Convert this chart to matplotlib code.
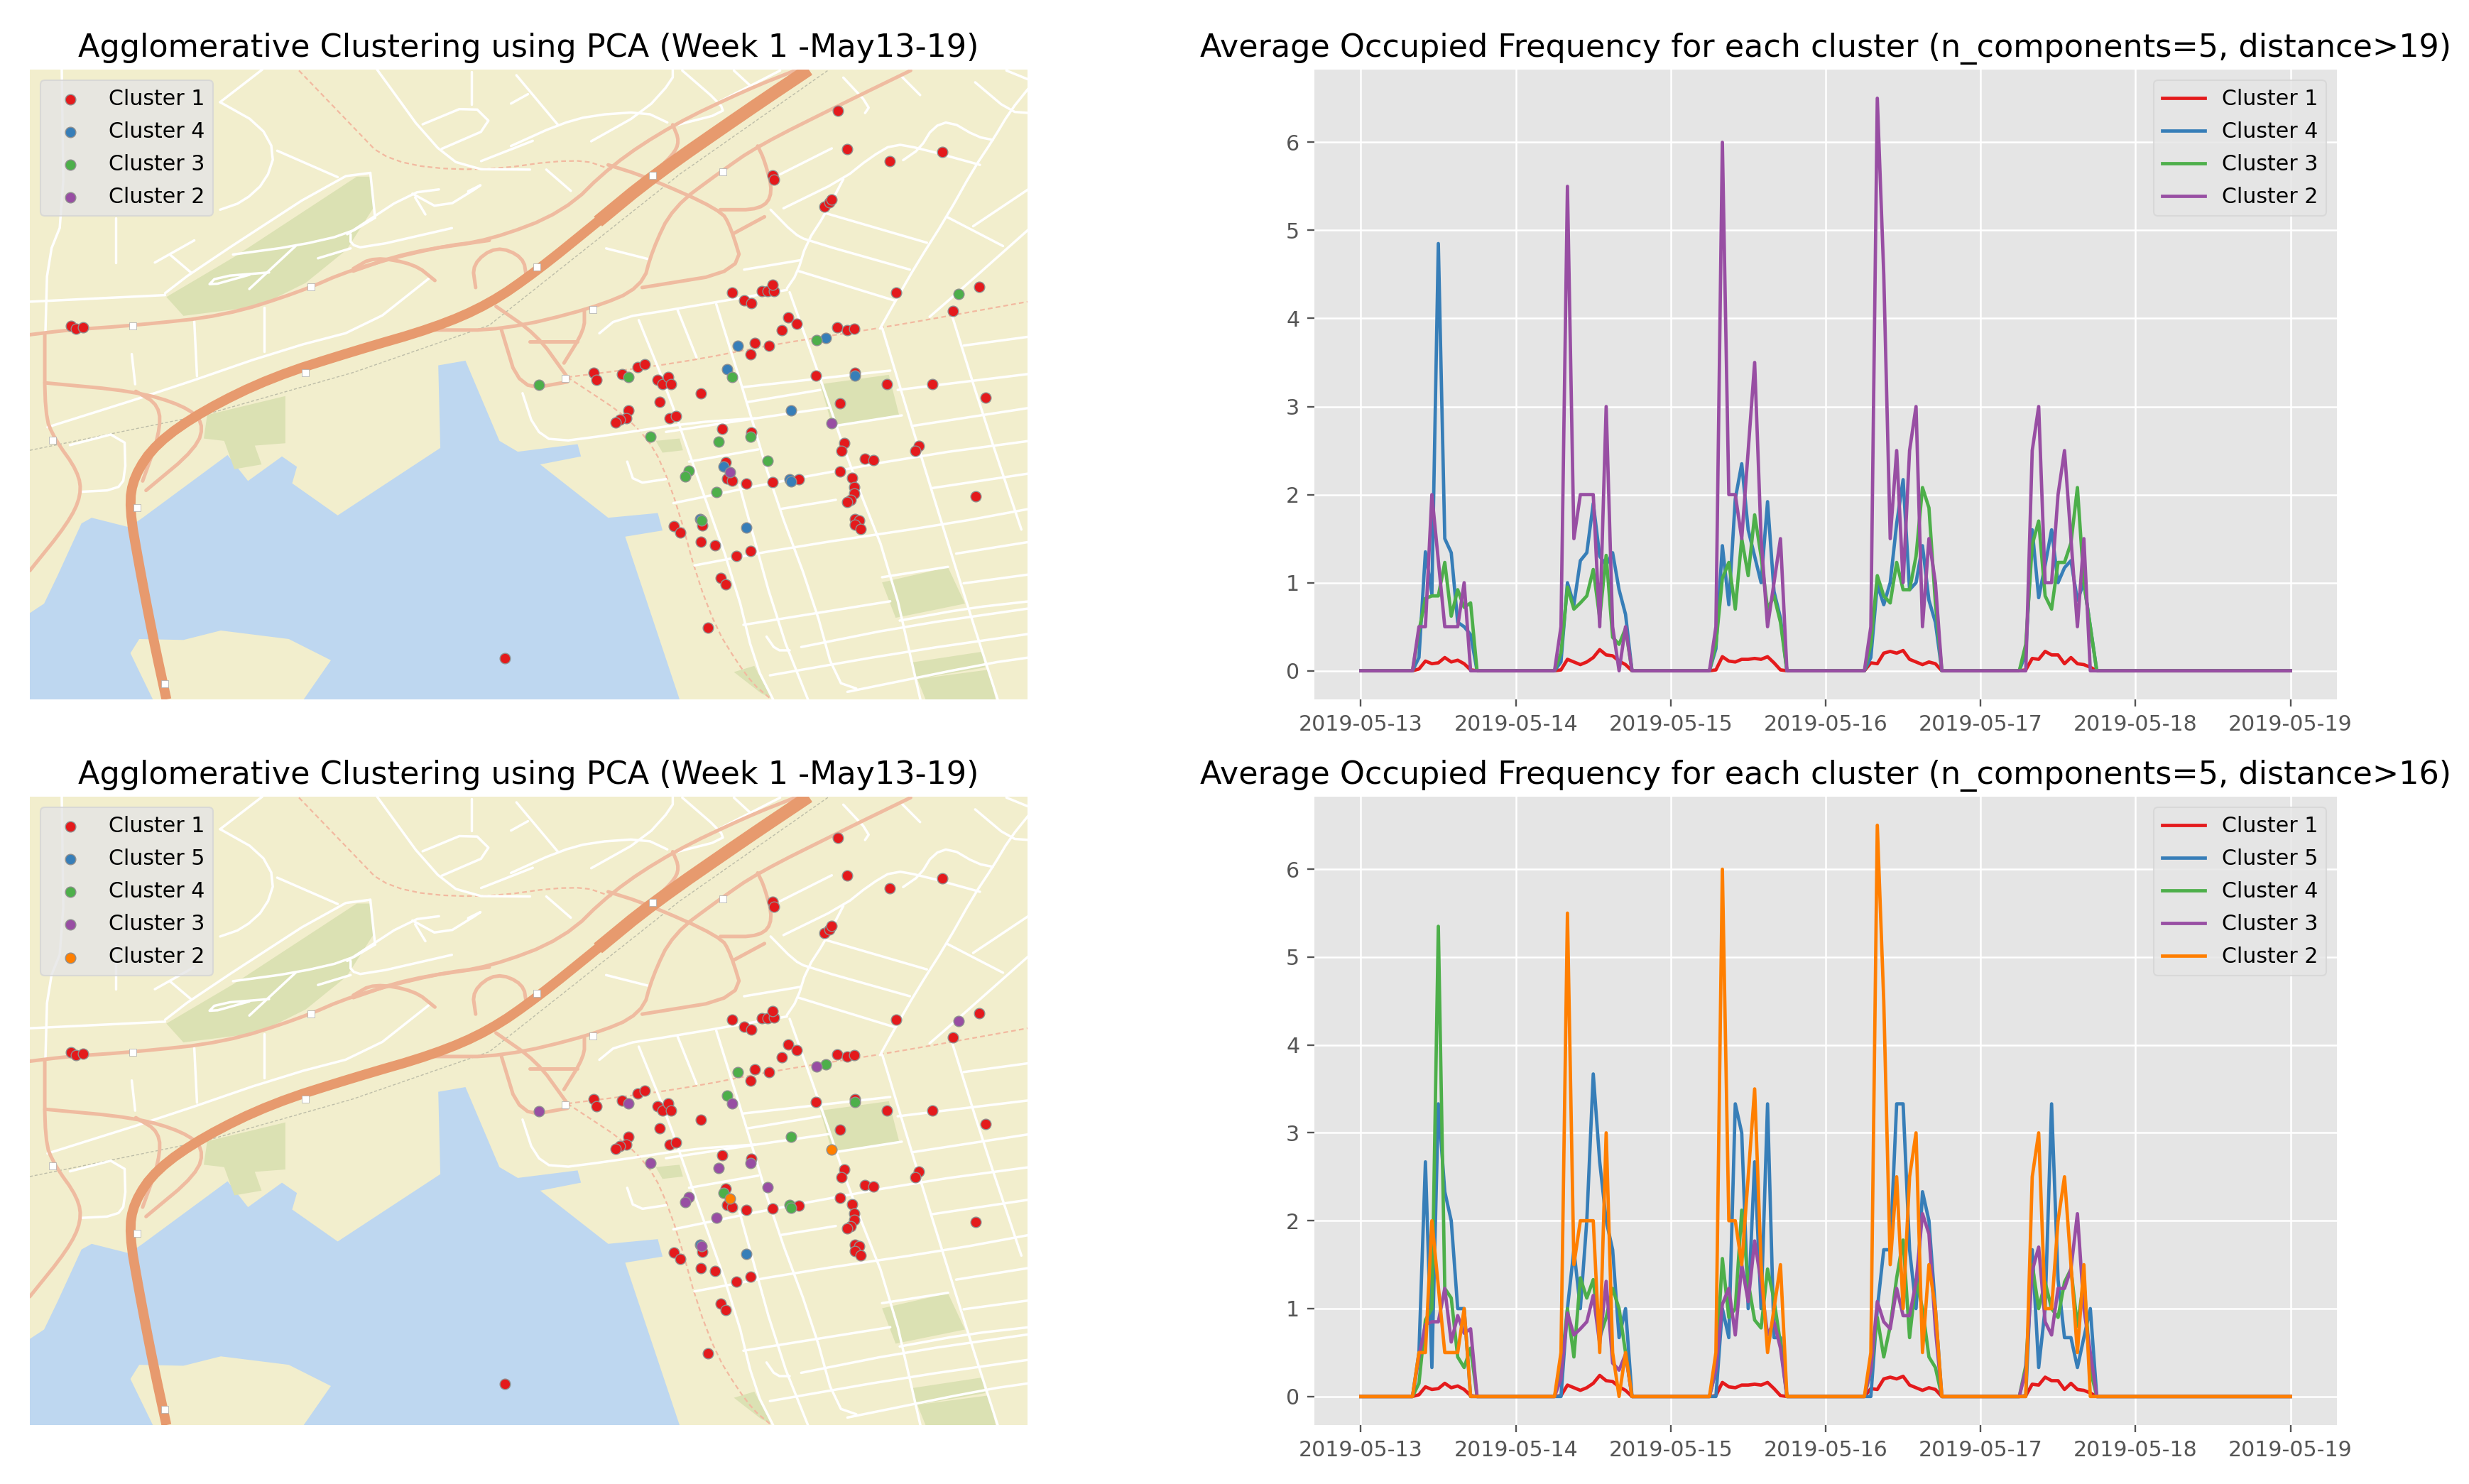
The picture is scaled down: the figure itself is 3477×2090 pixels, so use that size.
import pandas as pd
import matplotlib
matplotlib.use("Agg")
import matplotlib.pyplot as plt
import matplotlib.dates as mdates

# ---------- hourly series: values for hours 06..18 of each working day ----------
C1 = [[0,0,0,.02,.11,.08,.09,.15,.1,.12,.08,.01,0],
      [0,.01,.13,.1,.07,.1,.15,.24,.18,.17,.11,.07,0],
      [0,.01,.16,.11,.1,.13,.13,.14,.13,.16,.09,.01,0],
      [0,.09,.08,.2,.22,.2,.23,.13,.1,.07,.1,.08,0],
      [0,.01,.14,.13,.22,.18,.18,.08,.15,.08,.07,.04,0]]
C2 = [[0,0,0,.5,.5,2,1.25,.5,.5,.5,1,0,0],
      [0,.5,5.5,1.5,2,2,2,.5,3,.5,0,.5,0],
      [0,.5,6,2,2,1.5,2.5,3.5,1.5,.5,1,1.5,0],
      [0,.5,6.5,4.5,1.5,2.5,1,2.5,3,.5,1.5,1,0],
      [0,0,2.5,3,1,1,2,2.5,1.5,.5,1.5,0,0]]
C3 = [[0,0,0,.45,.82,.85,.85,1.23,.62,.92,.72,.77,0],
      [0,.2,.95,.7,.77,.85,1.15,.6,1.31,.38,.3,.48,0],
      [0,.3,1.05,1.23,.7,1.5,1.08,1.77,1.3,.7,.85,.55,0],
      [0,.3,1.08,.85,.77,1.23,.92,.92,1.3,2.08,1.85,.77,0],
      [0,.3,1.43,1.7,.85,.7,1.23,1.23,1.45,2.08,1,.5,0]]
TOP_C4 = [[0,0,0,.15,1.35,.87,4.85,1.5,1.34,.55,.5,.41,0],
          [0,.1,1,.75,1.25,1.34,1.9,1.3,1.2,1.34,.92,.64,0],
          [0,.25,1.42,.75,1.95,2.35,1.6,1.3,1,1.92,.9,.6,0],
          [0,.15,.98,.75,1,1.67,2.17,.92,1,1.42,.8,.55,0],
          [0,.2,1.6,.83,1.2,1.6,1,1.17,1.25,.8,1,.5,0]]
BOT_C5 = [[0,0,0,.5,2.67,.33,3.33,2.33,2,1,1,0,0],
          [0,0,1,1.67,1,2,3.67,2.67,2,1.67,.67,1,0],
          [0,0,1,.67,3.33,3,1,2.67,1,3.33,.67,.67,0],
          [0,0,1,1.67,1.67,3.33,3.33,1.67,1,2.33,2,1,0],
          [0,0,1.67,.33,1,3.33,1.33,.67,.67,.33,.67,1,0]]
BOT_C4 = [[0,0,0,.15,.87,1,5.35,1.23,1.12,.45,.33,.55,0],
          [0,.3,1,.45,1.35,1.12,1.33,.67,.9,1.23,1,.5,0],
          [0,.3,1.57,.9,1,2.12,1.3,.87,.78,1.45,1.1,.6,0],
          [0,.3,.9,.45,.8,1.35,1.78,.67,1.33,1,.45,.33,0],
          [0,.35,1.5,1,1.3,1,.9,1.3,1.45,.8,1.33,.3,0]]

TIMES = pd.date_range("2019-05-13", "2019-05-19", freq="h")
DAY_TICKS = pd.date_range("2019-05-13", "2019-05-19", freq="D")

def week(days):
    out = []
    for d in days:
        out += [0]*6 + list(d) + [0]*5
    return out + [0]*25

# ---------- sensor locations ----------
PTS_RED = [(1233,236),(1247,316),(1309,342),(1387,322),(1137,372),(1139,382),(1213,438),(1220,430),(1224,423),
 (1077,621),(1095,637),(1106,643),(1121,618),(1130,618),(1139,617),(1137,604),(1160,674),(1172,687),(1151,701),
 (1232,695),(1247,700),(1257,697),(1319,621),(1441,608),(1402,660),(105,691),(112,697),(122,694),(1132,734),
 (1111,727),(1105,751),(874,790),(878,805),(915,794),(938,778),(949,773),(968,806),(975,815),(983,800),(988,815),
 (1031,834),(1201,797),(1258,790),(1305,814),(1372,814),(1450,843),(1236,856),(971,853),(985,887),(995,883),
 (925,871),(922,887),(912,890),(906,896),(1063,910),(1106,917),(1242,940),(1238,956),(1352,945),(1347,956),
 (1273,973),(1285,976),(1068,980),(1070,1015),(1077,1020),(1098,1026),(1137,1023),(1176,1017),(1236,1000),
 (1254,1014),(1257,1033),(1257,1047),(1252,1060),(1247,1065),(1436,1052),(1258,1100),(1264,1103),(1258,1113),
 (1266,1122),(992,1116),(1001,1130),(1033,1115),(1031,1149),(1052,1156),(1084,1179),(1105,1168),(1061,1225),
 (1068,1239),(1042,1331),(743,1395)]
PTS_A = [(1086,734),(1215,717),(1070,783),(1258,797),(1164,871),(1065,990),(1162,1016),(1164,1021)]   # top C4, bottom C4
PTS_B = [(1098,1119),(1030,1100)]                                                                    # top C4, bottom C5
PTS_C = [(1411,624),(1202,721),(1077,800),(925,800),(793,817),(957,926),(1058,937),(1105,926),(1130,977),
 (1014,999),(1008,1010),(1054,1043),(1032,1103)]                                                     # C3
PTS_D = [(1224,897),(1074,1002)]                                                                     # C2

# ---------- base map geometry ----------
WATER = [(44,1300),(65,1280),(85,1220),(120,1110),(135,1098),(190,1118),(210,1098),(335,965),(365,1020),(415,968),
 (437,990),(430,1025),(497,1093),(648,950),(645,775),(685,765),(735,935),(762,958),(850,942),(855,968),(795,985),
 (895,1098),(968,1088),(975,1125),(920,1138),(1000,1483),(447,1483),(487,1400),(425,1355),(325,1337),(270,1357),
 (205,1355),(192,1385),(225,1483),(44,1483)]
PARKS = [[(245,630),(345,545),(525,375),(545,375),(550,440),(510,530),(450,600),(380,650),(270,670)],
 [(305,880),(420,840),(420,940),(375,945),(385,985),(345,995),(330,935),(300,930)],
 [(1207,815),(1308,795),(1323,880),(1225,905)],
 [(1298,1235),(1395,1203),(1420,1280),(1318,1310)],
 [(1340,1405),(1445,1382),(1450,1415),(1350,1440)],
 [(1350,1440),(1455,1420),(1465,1483),(1362,1483)],
 [(1080,1425),(1110,1412),(1135,1480),(1120,1470)],
 [(965,935),(1000,930),(1005,955),(975,960)]]
HIGHWAY = [(1190,148),(1100,235),(960,375),(880,470),(790,575),(720,645),(640,695),(520,745),(400,800),(300,870),
 (230,940),(197,1010),(190,1075),(205,1200),(225,1350),(245,1483)]
HIGHWAY_WIDE = [(1190,148),(1100,235),(960,375),(880,470)]
RAIL = [(44,955),(300,880),(520,790),(720,690),(860,530),(1000,370),(1220,148)]
RAMPS = [[(44,710),(100,700),(200,690),(330,670),(440,620),(520,570),(640,525),(720,510),(830,450),(900,350),(990,265),(1100,190),(1170,150)],
 [(720,510),(600,535),(520,575)],[(640,595),(610,560),(550,545),(520,570)],
 [(700,610),(695,560),(730,522),(770,545),(775,590)],
 [(1340,150),(1240,220),(1115,310),(1060,365),(990,440),(960,530),(945,610),(870,655),(740,700),(640,700)],
 [(945,610),(1095,575),(1075,480),(1060,445),(950,375),(895,350)],
 [(1060,445),(1120,445),(1138,410),(1125,340),(1115,310)],[(1080,495),(1125,460)],
 [(730,650),(790,710),(830,790),(835,800)],[(738,700),(765,828),(835,810)],
 [(860,660),(860,700),(830,770)],[(780,725),(850,725)],[(990,265),(1000,300),(990,330),(955,375)],
 [(66,710),(66,880),(80,930),(115,1000),(120,1050),(100,1110),(44,1210)],
 [(66,812),(200,830),(270,860),(300,895),(290,950),(215,1040)],
 [(200,830),(235,860),(235,920),(210,1020)]]
DASHED = [[(440,150),(520,270),(570,345),(700,365),(850,335),(900,360)],
 [(835,800),(1000,770),(1140,730),(1300,695),(1512,640)],
 [(835,800),(940,900),(985,1010),(1040,1300),(1100,1440),(1135,1483)]]
STREETS = [[(44,640),(243,626)],[(243,622),(286,574),(497,376),(545,367)],[(67,703),(70,548),(94,462),(91,148)],
 [(324,217),(382,264),(405,324),(391,385),(358,428),(324,445)],[(324,217),(386,148)],[(408,320),(497,376)],
 [(545,367),(552,462)],[(552,462),(511,497),(435,522),(343,540)],[(435,522),(367,613)],
 [(396,578),(319,587),(305,608),(367,583)],[(511,497),(603,410),(646,402)],
 [(516,497),(516,518),(535,527),(665,484)],[(468,548),(516,527)],
 [(631,591),(540,695),(415,742),(242,828),(70,906)],[(286,682),(290,798)],[(389,652),(389,746)],
 [(194,751),(199,815)],[(170,462),(170,557)],[(228,557),(286,510)],[(250,540),(281,578)],
 [(103,944),(183,914),(185,1013),(171,1039),(118,1043)],[(555,148),(631,299),(684,359),(780,360)],
 [(622,264),(694,221),(727,268),(650,316)],[(694,221),(694,152)],[(708,342),(784,299)],[(611,419),(626,455)],
 [(607,411),(650,445),(713,389),(689,406)],
 [(752,310),(821,265),(870,245),(948,237),(982,260)],[(870,300),(948,237),(990,170),(990,148)],
 [(760,160),(821,265)],[(752,220),(777,200)],[(1004,150),(1060,220),(1065,240),(997,265)],
 [(1080,150),(1104,182)],[(1060,215),(1148,150)],[(804,360),(840,405)],[(1241,165),(1280,225),(1273,240)],
 [(1325,160),(1354,202)],[(1435,175),(1486,237),(1515,240)],[(1481,150),(1515,170)],
 [(1515,185),(1486,237),(1461,297),(1432,360),(1393,460),(1349,560),(1319,635),(1295,697)],
 [(1148,370),(1224,315)],[(1329,340),(1354,315),(1373,270),(1398,257),(1437,290),(1461,297)],
 [(1442,350),(1354,315),(1315,305),(1280,335),(1241,380),(1153,442)],
 [(1241,380),(1214,455),(1187,515),(1173,580),(1158,612)],[(1134,445),(1168,495),(1187,510),(1339,572)],
 [(1214,452),(1364,515)],[(1175,575),(1315,637)],[(1393,460),(1476,522)],[(1432,480),(1515,400)],
 [(1368,672),(1412,617),(1515,485)],[(892,527),(955,550)],[(1095,572),(1178,552)],
 [(882,707),(909,675),(997,655),(1158,615)],
 [(940,679),(980,821),(1020,985),(1082,1237),(1111,1407),(1139,1487)],[(997,657),(1025,758)],
 [(1054,645),(1099,853),(1139,1048),(1196,1268),(1230,1445),(1260,1460)],
 [(1162,620),(1207,802),(1253,997),(1310,1205),(1355,1487)],[(1088,1029),(1145,1325),(1190,1487)],
 [(1298,695),(1355,966),(1423,1281),(1469,1487)],[(1401,670),(1446,878),(1503,1123)],
 [(923,979),(934,1026),(980,1016)],[(769,834),(786,909),(815,938),(900,922),(1014,897),(1111,887)],
 [(1094,821),(1310,786)],[(1099,853),(1207,827)],[(980,916),(1099,890),(1219,865)],[(1230,903),(1327,881)],
 [(1344,903),(1515,865)],[(1014,979),(1116,953)],[(991,1067),(1139,1023),(1355,966),(1515,935)],
 [(1321,827),(1515,793)],[(1418,733),(1515,714)],[(1150,1079),(1230,1060)],
 [(1022,1199),(1162,1161),(1395,1111),(1515,1079)],[(1372,1035),(1515,1004)],[(1407,1174),(1515,1149)],
 [(1298,1224),(1395,1202)],[(1094,1325),(1310,1275)],[(1324,1316),(1423,1290),(1515,1275)],
 [(1418,1237),(1515,1218)],[(1179,1372),(1332,1328),(1515,1290)],[(1133,1432),(1332,1382),(1515,1344)],
 [(1247,1467),(1452,1407),(1515,1394)],[(1128,1350),(1142,1379),(1162,1379)]]
SHIELDS = [(196,691),(458,609),(449,791),(832,802),(960,373),(790,566),(873,656),(1064,365),(202,1076),(243,1450),(77,933)]
MAP_XLIM = (44, 1512)
MAP_YLIM = (1483, 148)

# ---------- text and colours ----------
MAP_TITLE = "Agglomerative Clustering using PCA (Week 1 -May13-19)"
LINE_TITLE_TOP = "Average Occupied Frequency for each cluster (n_components=5, distance>19)"
LINE_TITLE_BOT = "Average Occupied Frequency for each cluster (n_components=5, distance>16)"
RED, BLUE, GREEN, PURPLE, ORANGE = "#e41a1c", "#377eb8", "#4daf4a", "#984ea3", "#ff7f00"

W, H = 3477, 2090
plt.style.use("ggplot")
plt.rcParams["font.family"] = "DejaVu Sans"
FS = 21.6
fig = plt.figure(figsize=(W/100, H/100), dpi=100, facecolor="white")

def pix_axes(x0, y0, x1, y1):
    return fig.add_axes([x0/W, 1-y1/H, (x1-x0)/W, (y1-y0)/H])

def rounded(path, passes=2):
    """Round the corners of a road's polyline, keeping its end points."""
    for _ in range(passes):
        new = [path[0]]
        for (x0, y0), (x1, y1) in zip(path[:-1], path[1:]):
            new.append((.75*x0+.25*x1, .75*y0+.25*y1))
            new.append((.25*x0+.75*x1, .25*y0+.75*y1))
        new.append(path[-1])
        path = new
    return path

def legend(ax, loc):
    leg = ax.legend(loc=loc, fontsize=FS, facecolor="#E5E5E5", edgecolor="#D5D5D5",
                    framealpha=0.8, labelspacing=0.57)
    leg.get_frame().set_linewidth(1.5)
    for t in leg.get_texts():
        t.set_color("black")

def draw_map(ax, groups):
    ax.set_facecolor("#F2EECD")
    ax.fill(*zip(*WATER), color="#BED7F0", lw=0, zorder=1)
    for p in PARKS:
        ax.fill(*zip(*p), color="#DBE1B3", lw=0, zorder=1.1)
    ax.plot(*zip(*RAIL), color="#BDBDA8", lw=1, ls=(0, (3, 2)), zorder=1.15)
    for d in DASHED:
        ax.plot(*zip(*rounded(d)), color="#F2B9A0", lw=1.6, ls=(0, (3, 2)), zorder=1.2)
    for s in STREETS:
        ax.plot(*zip(*rounded(s, 1)), color="white", lw=2.5, zorder=1.3, solid_capstyle="round")
    for r in RAMPS:
        ax.plot(*zip(*rounded(r)), color="#EFBBA0", lw=3.6, zorder=1.4, solid_capstyle="round")
    ax.plot(*zip(*rounded(HIGHWAY)), color="#E79A6E", lw=10, zorder=1.5, solid_capstyle="butt")
    ax.plot(*zip(*rounded(HIGHWAY_WIDE)), color="#E79A6E", lw=13, zorder=1.5, solid_capstyle="butt")
    ax.scatter(*zip(*SHIELDS), s=45, color="white", edgecolors="#AAAAAA", linewidths=.5, marker="s", zorder=1.6)
    for k, (pts, col, lab) in enumerate(groups):
        ax.scatter(*zip(*pts), s=112, color=col, edgecolors="#909090", linewidths=1.0, label=lab, zorder=3+k)
    ax.set_xlim(*MAP_XLIM)
    ax.set_ylim(*MAP_YLIM)
    ax.set_xticks([])
    ax.set_yticks([])
    ax.grid(False)
    for s in ax.spines.values():
        s.set_visible(False)
    ax.set_title(MAP_TITLE, fontsize=32, color="black", pad=13)
    legend(ax, "upper left")

def draw_lines(ax, series, title):
    ax.set_facecolor("#E5E5E5")
    for vals, col, lab in series:
        ax.plot(TIMES, week(vals), color=col, lw=3.4, label=lab)
    ax.xaxis.set_major_locator(mdates.DayLocator())
    ax.xaxis.set_major_formatter(mdates.DateFormatter("%Y-%m-%d"))
    ax.set_xticks(DAY_TICKS)
    ax.set_yticks([0, 1, 2, 3, 4, 5, 6])
    ax.tick_params(labelsize=FS, length=7.5, width=1.7, colors="#555555", pad=7.5)
    ax.grid(True, color="white", lw=1.8)
    ax.set_axisbelow(True)
    for s in ax.spines.values():
        s.set_visible(False)
    ax.set_title(title, fontsize=32, color="black", pad=13)
    legend(ax, "upper right")

draw_map(pix_axes(42, 98, 1447, 985),
         [(PTS_RED, RED, "Cluster 1"), (PTS_A+PTS_B, BLUE, "Cluster 4"),
          (PTS_C, GREEN, "Cluster 3"), (PTS_D, PURPLE, "Cluster 2")])
draw_map(pix_axes(42, 1122, 1447, 2007),
         [(PTS_RED, RED, "Cluster 1"), (PTS_B, BLUE, "Cluster 5"), (PTS_A, GREEN, "Cluster 4"),
          (PTS_C, PURPLE, "Cluster 3"), (PTS_D, ORANGE, "Cluster 2")])
draw_lines(pix_axes(1851, 98, 3291, 985),
           [(C1, RED, "Cluster 1"), (TOP_C4, BLUE, "Cluster 4"), (C3, GREEN, "Cluster 3"), (C2, PURPLE, "Cluster 2")],
           LINE_TITLE_TOP)
draw_lines(pix_axes(1851, 1122, 3291, 2007),
           [(C1, RED, "Cluster 1"), (BOT_C5, BLUE, "Cluster 5"), (BOT_C4, GREEN, "Cluster 4"),
            (C3, PURPLE, "Cluster 3"), (C2, ORANGE, "Cluster 2")],
           LINE_TITLE_BOT)
fig.savefig("out.png", dpi=100, facecolor="white")
